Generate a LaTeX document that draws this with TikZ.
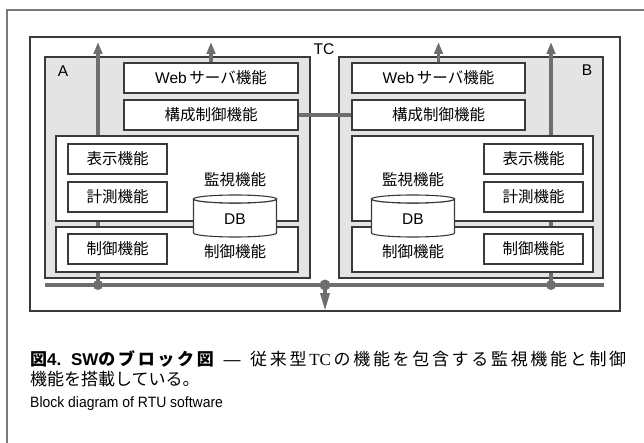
\documentclass[tikz,border=0pt]{standalone}
\usepackage{fontspec}
\setmainfont{Liberation Sans}
\newfontfamily\jpfont{Noto Sans CJK JP}
\newfontfamily\latinserif{Liberation Serif}
\usepackage{tikz}
\usetikzlibrary{arrows.meta}
\definecolor{busgray}{HTML}{6E6E6E}
\definecolor{panelgray}{HTML}{E4E4E4}
\definecolor{framedark}{HTML}{3A3A3A}
\definecolor{outergray}{HTML}{7A7A7A}
\tikzstyle{outer frame}=[draw=outergray, line width=1.2pt]
\tikzstyle{tc frame}=[draw=framedark, line width=1.2pt]
\tikzstyle{panel}=[draw=framedark, line width=1.8pt, fill=panelgray, inner sep=0pt]
\tikzstyle{func box}=[draw=framedark, line width=1.1pt, fill=white, inner sep=0pt,
  font=\fontsize{15.5}{16}\selectfont]
\tikzstyle{plain label}=[inner sep=0pt, font=\fontsize{15.5}{16}\selectfont]
\tikzstyle{bus line}=[busgray, line width=4pt]
\tikzstyle{up link}=[busgray, line width=3.5pt, -{Triangle[length=12pt,width=8.5pt]}]
\tikzstyle{down link}=[busgray, line width=3.5pt, -{Triangle[length=18pt,width=9pt]}]
\newcommand{\funcnode}[4][]{
  \node [func box, minimum height=30pt, #1] (#2) at #3 {#4}
}
\newcommand{\dbnode}[2]{
  \draw [func box] (#2-41.5,199) -- (#2-41.5,233)
    arc [start angle=180, end angle=0, x radius=41.5, y radius=4]
    -- (#2+41.5,199)
    arc [start angle=0, end angle=180, x radius=41.5, y radius=4];
  \draw [func box] (#2,199) ellipse [x radius=41.5, y radius=4];
  \node [plain label] (#1) at (#2,219) {DB}
}
% stretchable glue between the characters of a caption run
\newcommand{\capglue}{\hskip 0pt plus 1fil}
\def\spreadchars#1{\spreadfirst#1\relax}
\def\spreadfirst#1{#1\spreadrest}
\def\spreadrest#1{\ifx#1\relax\else\capglue #1\expandafter\spreadrest\fi}

\begin{document}
\begin{tikzpicture}[x=1pt,y=-1pt]
  \useasboundingbox (0,0) rectangle (644,443);
  \draw[outer frame] (7,443) -- (7,10) -- (644,10);
  \draw[tc frame] (30,37) rectangle (620,311);
  \node[plain label] (tc) at (324,49) {TC};

  % A and B
  \node[panel, minimum width=265pt, minimum height=221pt] (panelA) at (177.5,167.5) {};
  \node[panel, minimum width=264pt, minimum height=221pt] (panelB) at (471,167.5) {};
  \node[plain label] (nameA) at (63,71) {A};
  \node[plain label] (nameB) at (587,70) {B};

  % bus
  \coordinate (busL) at (45,285);
  \coordinate (busR) at (604,285);
  \coordinate (tapA) at (98,285);
  \coordinate (tapC) at (325,285);
  \coordinate (tapB) at (551,285);
  \coordinate (topA) at (98,42);
  \coordinate (topB) at (551,42);
  \coordinate (outC) at (325,311);
  \draw[bus line] (busL) -- (busR);
  \draw[up link, line width=4pt] (tapA) -- (topA);
  \draw[up link, line width=4pt] (tapB) -- (topB);

  % side A
  \funcnode[minimum width=174pt]{webA}{(211,78)}{Web\,{\jpfont サーバ機能}};
  \funcnode[minimum width=174pt]{cfgA}{(211,115)}{\jpfont 構成制御機能};
  \node[func box, minimum width=242pt, minimum height=85pt] (monA) at (177,178.5) {};
  \node[func box, minimum width=242pt, minimum height=45pt] (ctlA) at (177,249.5) {};
  \funcnode[minimum width=99pt]{dispA}{(117.5,159)}{\jpfont 表示機能};
  \funcnode[minimum width=99pt]{measA}{(117.5,197)}{\jpfont 計測機能};
  \funcnode[minimum width=99pt]{ctlfA}{(117.5,249)}{\jpfont 制御機能};
  \node[plain label] (monlblA) at (235,180) {\jpfont 監視機能};
  \dbnode{dbA}{235};
  \node[plain label] (ctllblA) at (235,252) {\jpfont 制御機能};

  % side B
  \funcnode[minimum width=173pt]{webB}{(438.5,78)}{Web\,{\jpfont サーバ機能}};
  \funcnode[minimum width=173pt]{cfgB}{(438.5,115)}{\jpfont 構成制御機能};
  \node[func box, minimum width=241pt, minimum height=85pt] (monB) at (472.5,178.5) {};
  \node[func box, minimum width=241pt, minimum height=45pt] (ctlB) at (472.5,249.5) {};
  \funcnode[minimum width=99pt]{dispB}{(533.5,159)}{\jpfont 表示機能};
  \funcnode[minimum width=99pt]{measB}{(533.5,197)}{\jpfont 計測機能};
  \funcnode[minimum width=99pt]{ctlfB}{(533.5,249)}{\jpfont 制御機能};
  \node[plain label] (monlblB) at (413,180) {\jpfont 監視機能};
  \dbnode{dbB}{413};
  \node[plain label] (ctllblB) at (413,252) {\jpfont 制御機能};

  \coordinate (webtopA) at (211,42);
  \coordinate (webtopB) at (438.5,42);
  \draw[up link] (webA.north) -- (webtopA);
  \draw[up link] (webB.north) -- (webtopB);
  \draw[bus line, line width=3.5pt] (cfgA.east) -- (cfgB.west);

  \fill[busgray] (tapA) circle (5pt);
  \fill[busgray] (tapB) circle (5pt);
  \fill[busgray] (tapC) circle (5.5pt);
  \draw[down link] (tapC) -- (outC);

  % caption
  \node[anchor=west, inner sep=0pt, font=\fontsize{17}{18}\selectfont] (cap1) at (30,359)
    {\makebox[596pt][s]{{\bfseries\jpfont 図}{\bfseries 4.}\hskip 7pt\capglue
     {\bfseries SW}{\bfseries\jpfont\spreadchars{のブロック図}}\hskip 7pt\capglue
     —\hskip 7pt\capglue{\jpfont\spreadchars{従来型}}\capglue{\latinserif TC}\capglue
     {\jpfont\spreadchars{の機能を包含する監視機能と制御}}}};
  \node[anchor=west, inner sep=0pt, font=\fontsize{17}{18}\selectfont] (cap2) at (30,379)
    {\jpfont 機能を搭載している。};
  \node[anchor=west, inner sep=0pt, font=\fontsize{15}{16}\selectfont] (cap3) at (30,404)
    {\scalebox{0.93}[1]{Block diagram of RTU software}};
\end{tikzpicture}
\end{document}
